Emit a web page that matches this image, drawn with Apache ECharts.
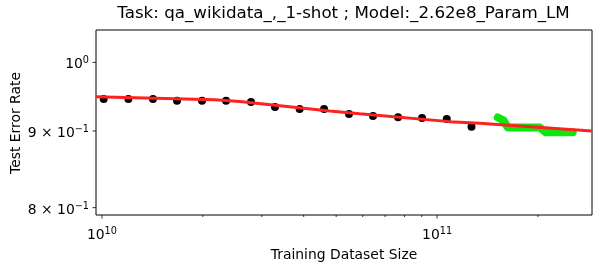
<!DOCTYPE html>
<html><head><meta charset="utf-8">
<script src="https://cdn.jsdelivr.net/npm/echarts@6/dist/echarts.min.js"></script>
<style>html,body{margin:0;padding:0;background:#fff}#c{width:602px;height:273px}</style>
</head><body><div id="c"></div>
<script>
const titleText = 'Task: qa_wikidata_,_1-shot ; Model:_2.62e8_Param_LM';
const xName = 'Training Dataset Size';
const yName = 'Test Error Rate';

// observed points
const dataX = [1.012e10, 1.199e10, 1.420e10, 1.675e10, 1.989e10, 2.346e10, 2.785e10, 3.284e10,
               3.89e10, 4.60e10, 5.46e10, 6.44e10, 7.65e10, 9.02e10, 1.069e11, 1.267e11];
const dataY = [0.9453, 0.9453, 0.9453, 0.9428, 0.9428, 0.9428, 0.9409, 0.9338,
               0.9309, 0.9309, 0.9238, 0.9209, 0.9191, 0.9181, 0.9167, 0.9060];
// fitted curve (red)
const fitX = [9.576e9, 2.170e10, 2.576e10, 4.782e10, 5.875e10, 1.091e11, 1.341e11, 2.896e11];
const fitY = [0.9485, 0.9442, 0.9416, 0.9281, 0.9241, 0.9130, 0.9107, 0.9000];
// green segment
const frontX = [1.518e11, 1.58e11, 1.626e11, 2.026e11, 2.111e11, 2.541e11];
const frontY = [0.9188, 0.9146, 0.9048, 0.9048, 0.8981, 0.8981];

// axes
const xRange = [9.6e9, 2.9e11];
const yRange = [0.791, 1.051];
const xMajorTicks = [1e10, 1e11];
const xMajorLabels = [['10', '10'], ['10', '11']];
const xMinorTicks = [2e10, 3e10, 4e10, 5e10, 6e10, 7e10, 8e10, 9e10, 2e11];
const yTicks = [0.8, 0.9, 1.0];
const yTickLabels = [['8 \u00d7 10', '\u22121'], ['9 \u00d7 10', '\u22121'], ['10', '0']];

const FONT = 'DejaVu Sans';
const rich = {
  b: { fontFamily: FONT, fontSize: 13.9, color: '#000', lineHeight: 16, verticalAlign: 'bottom' },
  s: { fontFamily: FONT, fontSize: 9.7, color: '#000', lineHeight: 16, verticalAlign: 'top' }
};

function xTickRender(len, labels) {
  return function (params, api) {
    const cs = params.coordSys;
    const x = api.coord([api.value(0), yRange[0]])[0];
    const bottom = cs.y + cs.height;
    const children = [{ type: 'line', shape: { x1: x, y1: bottom, x2: x, y2: bottom + len },
      style: { stroke: '#000', lineWidth: 0.8 } }];
    if (labels) {
      const lab = labels[params.dataIndex];
      children.push({ type: 'text', style: { text: '{b|' + lab[0] + '}{s|' + lab[1] + '}', rich: rich,
        x: x, y: bottom + 11, align: 'center', verticalAlign: 'top' } });
    }
    return { type: 'group', children: children };
  };
}
function yTickRender(params, api) {
  const cs = params.coordSys;
  const y = api.coord([xRange[0], api.value(1)])[1];
  const left = cs.x;
  const lab = yTickLabels[params.dataIndex];
  return { type: 'group', children: [
    { type: 'line', shape: { x1: left - 3.5, y1: y, x2: left, y2: y }, style: { stroke: '#000', lineWidth: 0.8 } },
    { type: 'text', style: { text: '{b|' + lab[0] + '}{s|' + lab[1] + '}', rich: rich,
      x: left - 7, y: y + 1.5, align: 'right', verticalAlign: 'middle' } }
  ] };
}

const chart = echarts.init(document.getElementById('c'), null, { renderer: 'canvas' });
chart.setOption({
  animation: false,
  backgroundColor: '#fff',
  grid: { left: 96, right: 10, top: 30, bottom: 58, show: true, borderColor: '#000', borderWidth: 1, backgroundColor: 'transparent' },
  xAxis: { type: 'log', logBase: 10, min: xRange[0], max: xRange[1],
    axisLine: { show: false }, axisTick: { show: false }, axisLabel: { show: false }, splitLine: { show: false } },
  yAxis: { type: 'log', logBase: 10, min: yRange[0], max: yRange[1],
    axisLine: { show: false }, axisTick: { show: false }, axisLabel: { show: false }, splitLine: { show: false } },
  graphic: [
    { type: 'text', id: 'title', x: 343.5, y: 13.5, style: { text: titleText, x: 0, y: 0, align: 'center', verticalAlign: 'middle',
      font: '16.7px "DejaVu Sans"', fill: '#000' } },
    { type: 'text', id: 'xn', x: 344, y: 255, style: { text: xName, x: 0, y: 0, align: 'center', verticalAlign: 'middle', font: '13.9px "DejaVu Sans"', fill: '#000' } },
    { type: 'text', id: 'yn', rotation: Math.PI / 2, x: 16.5, y: 123, style: { text: yName, x: 0, y: 0, align: 'center', verticalAlign: 'middle', font: '13.9px "DejaVu Sans"', fill: '#000' } }
  ],
  series: [
    { type: 'scatter', data: dataX.map((v, i) => [v, dataY[i]]), symbolSize: 8,
      itemStyle: { color: '#000', opacity: 1 }, z: 2, silent: true },
    { type: 'line', data: frontX.map((v, i) => [v, frontY[i]]), showSymbol: false,
      lineStyle: { color: '#0ee60e', width: 8, cap: 'round', join: 'round', opacity: 1 }, z: 3, silent: true },
    { type: 'line', data: fitX.map((v, i) => [v, fitY[i]]), showSymbol: false,
      lineStyle: { color: '#ff2020', width: 3, opacity: 1 }, z: 4, silent: true },
    { type: 'custom', data: xMajorTicks.map(v => [v, yRange[0]]), renderItem: xTickRender(3.5, xMajorLabels), clip: false, z: 5, silent: true },
    { type: 'custom', data: xMinorTicks.map(v => [v, yRange[0]]), renderItem: xTickRender(2, null), clip: false, z: 5, silent: true },
    { type: 'custom', data: yTicks.map(v => [xRange[0], v]), renderItem: yTickRender, clip: false, z: 5, silent: true }
  ]
});
</script>
</body></html>
